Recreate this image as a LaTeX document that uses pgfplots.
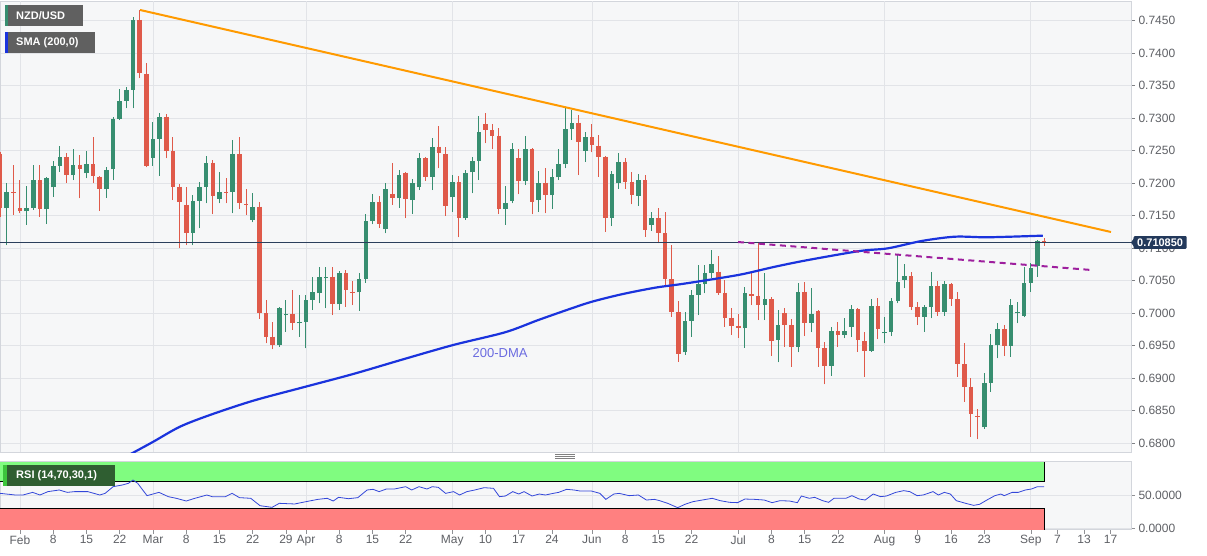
\documentclass[border=0pt]{standalone}
\usepackage{pgfplots}
\pgfplotsset{compat=1.18}
\usepackage{pgfplotstable}
\usepackage{fontspec}
\setmainfont{Liberation Sans}
\definecolor{bull}{HTML}{378E70}
\definecolor{bear}{HTML}{DF5A4A}
\definecolor{trendor}{HTML}{FF9A00}
\definecolor{dmablue}{HTML}{1A33DD}
\definecolor{dmatext}{HTML}{6B6BE0}
\definecolor{purp}{HTML}{9E1F9E}
\definecolor{pricecol}{HTML}{2B3F5C}
\definecolor{tagcol}{HTML}{23395B}
\definecolor{panelbg}{HTML}{F6F7F8}
\definecolor{gridcol}{HTML}{E2E4E8}
\definecolor{bordercol}{HTML}{D3D6DC}
\definecolor{labcol}{HTML}{5F6166}
\definecolor{legbg}{HTML}{606060}
\definecolor{rsigreen}{HTML}{80FC80}
\definecolor{rsired}{HTML}{FF8080}
\definecolor{rsiline}{HTML}{3347D9}
\definecolor{rsilab}{HTML}{2F5E31}
\definecolor{rsistrip}{HTML}{3CC43C}

% bullish candles: index O H L C
\pgfplotstableread{
i O H L C
-2 .71610 .72005 .71046 .71867
1 .71564 .71954 .71354 .71615
2 .71621 .72277 .71585 .72046
4 .71595 .72095 .71369 .72082
5 .71933 .72338 .71790 .72267
6 .72267 .72569 .72174 .72395
8 .72123 .72518 .72046 .72282
10 .72149 .72497 .72072 .72292
13 .71903 .72251 .71774 .72200
14 .72210 .73010 .72046 .72985
15 .72985 .73441 .72969 .73262
16 .73262 .73482 .73149 .73431
17 .73431 .74559 .73149 .74508
20 .72390 .72944 .72262 .72672
21 .72682 .73082 .72108 .73010
26 .71236 .71815 .71046 .71728
27 .71728 .72010 .71303 .71944
28 .71944 .72420 .71687 .72313
30 .71754 .72174 .71687 .71867
32 .71867 .72662 .71533 .72446
35 .71431 .71841 .71395 .71636
39 .69508 .70085 .69482 .70072
40 .69964 .70200 .69713 .69985
42 .69841 .70272 .69636 .69862
43 .69867 .70277 .69456 .70200
44 .70200 .70559 .70046 .70328
45 .70303 .70703 .70149 .70559
46 .70538 .70703 .70072 .70559
48 .70133 .70651 .70046 .70610
51 .70318 .70620 .70036 .70528
52 .70528 .71518 .70467 .71415
53 .71415 .71826 .71364 .71713
55 .71287 .71995 .71226 .71903
57 .71764 .72200 .71620 .72123
59 .71738 .72056 .71523 .71995
60 .71933 .72456 .71892 .72380
62 .72097 .72687 .71892 .72559
65 .71779 .72123 .71559 .72010
67 .71456 .72200 .71431 .72159
68 .72164 .72405 .71841 .72344
69 .72344 .73031 .72046 .72790
73 .71600 .71959 .71354 .71697
74 .71728 .72610 .71687 .72518
76 .72031 .72728 .71969 .72518
78 .71738 .72185 .71559 .72005
80 .71815 .72215 .71600 .72087
81 .72087 .72518 .72046 .72287
82 .72287 .73159 .72226 .72826
83 .72826 .73123 .72662 .72928
85 .72497 .72790 .72328 .72703
89 .71467 .72185 .71338 .72138
90 .71995 .72456 .71908 .72328
93 .71800 .72133 .71651 .72046
95 .71354 .71549 .71262 .71456
100 .69395 .70010 .69354 .69877
101 .69877 .70354 .69636 .70277
102 .70277 .70738 .69969 .70441
103 .70441 .70738 .70303 .70620
104 .70620 .70969 .70533 .70754
109 .69764 .70405 .69467 .70303
112 .70123 .70620 .69892 .70210
114 .69585 .70046 .69241 .69815
117 .69482 .70456 .69395 .70328
119 .69851 .70380 .69703 .69980
122 .69190 .69790 .69031 .69723
124 .69662 .69928 .69610 .69723
125 .69790 .70123 .69636 .70056
128 .69421 .70210 .69400 .70108
130 .69687 .69944 .69533 .69703
131 .69713 .70226 .69646 .70190
132 .70190 .70908 .70149 .70482
133 .70508 .70754 .70380 .70569
136 .69944 .70123 .69713 .70097
137 .70097 .70636 .69918 .70421
139 .70021 .70497 .69954 .70441
145 .68241 .69072 .68220 .68928
146 .68928 .69672 .68790 .69508
147 .69508 .69841 .69303 .69754
149 .69492 .70210 .69328 .70123
150 .69995 .70174 .69841 .70010
151 .69954 .70703 .69933 .70467
152 .70467 .70764 .70328 .70697
153 .70723 .71123 .70559 .71108
}\upc

% bearish candles: index O H L C
\pgfplotstableread{
i O H L C
-3 .72446 .72482 .71482 .71610
-1 .71856 .72277 .71508 .71840
0 .71610 .72046 .71533 .71564
3 .72046 .72277 .71482 .71595
7 .72395 .72467 .72005 .72123
9 .72282 .72431 .71764 .72210
11 .72292 .72703 .71995 .72108
12 .72097 .72110 .71574 .71903
18 .74508 .74662 .73610 .73697
19 .73677 .73851 .72241 .72262
22 .73020 .73062 .72379 .72497
23 .72492 .72713 .71738 .71944
24 .71944 .71985 .70995 .71703
25 .71662 .71933 .71046 .71236
29 .72313 .72354 .71518 .71800
31 .71862 .72072 .71687 .71846
33 .72446 .72703 .71595 .71687
34 .71677 .71903 .71508 .71656
36 .71636 .71703 .69908 .69995
37 .69995 .70200 .69533 .69636
38 .69636 .69867 .69441 .69508
41 .69985 .70354 .69738 .69841
47 .70559 .70703 .69969 .70133
49 .70610 .70662 .70097 .70354
50 .70328 .70497 .70123 .70313
54 .71713 .71800 .71313 .71369
56 .71831 .72303 .71662 .71764
58 .72159 .72170 .71456 .71749
61 .72380 .72405 .72036 .72097
63 .72559 .72877 .72226 .72456
64 .72446 .72559 .71492 .71646
66 .72010 .72108 .71164 .71456
70 .72903 .73072 .72610 .72815
71 .72815 .72903 .72518 .72728
72 .72728 .72841 .71523 .71600
75 .72380 .72518 .71826 .72031
77 .72518 .72533 .71518 .71703
79 .72005 .72236 .71533 .71815
84 .72928 .73046 .72123 .72636
86 .72703 .72903 .72472 .72585
87 .72574 .72738 .72097 .72405
88 .72405 .72415 .71251 .71467
91 .72328 .72380 .71908 .72021
92 .72021 .72164 .71672 .71815
94 .72046 .72123 .71174 .71277
96 .71456 .71610 .71072 .71226
97 .71226 .71559 .70405 .70523
98 .70523 .71046 .69944 .70020
99 .70010 .70185 .69251 .69364
105 .70636 .70877 .70277 .70313
106 .70313 .70508 .69790 .69928
107 .69928 .70082 .69662 .69800
108 .69805 .69980 .69621 .69764
110 .70292 .70636 .70123 .70267
111 .70267 .71087 .69892 .70123
113 .70210 .70251 .69344 .69569
115 .69995 .70072 .69482 .69815
116 .69815 .69908 .69174 .69482
118 .70328 .70472 .69646 .69851
120 .70036 .70046 .69174 .69456
121 .69456 .69559 .68903 .69190
123 .69723 .69867 .69482 .69662
126 .70056 .70072 .69405 .69585
127 .69569 .69713 .69020 .69421
129 .70108 .70226 .69595 .69749
134 .70569 .70636 .70046 .70097
135 .70097 .70174 .69815 .69944
138 .70421 .70497 .69954 .70021
140 .70441 .70456 .70108 .70215
141 .70215 .70328 .69020 .69210
142 .69210 .69533 .68636 .68867
143 .68867 .68995 .68097 .68446
144 .68415 .68518 .68056 .68395
148 .69754 .69815 .69338 .69492
154 .71113 .71149 .71036 .71082
}\dnc

\pgfplotsset{
  candlewick/.style={quiver={u=0,v=\thisrow{H}-\thisrow{L}}, line width=1pt},
  candlebody/.style={quiver={u=0,v=\thisrow{C}-\thisrow{O}}, line width=4.6pt},
  lab/.style={font=\fontsize{12}{14}\selectfont, text=labcol},
}

\begin{document}
\begin{tikzpicture}
\fill[white, use as bounding box] (0,0) rectangle (1207pt,555pt);

% ---------------- main price panel ----------------
\begin{axis}[
  at={(0pt,103pt)}, anchor=south west,
  scale only axis, width=1131pt, height=451pt,
  xmin=-3.0075, xmax=167.07, ymin=0.678615, ymax=0.748,
  axis background/.style={fill=panelbg},
  axis line style={bordercol, line width=0.8pt},
  xtick=\empty,
  ytick={0.680,0.685,0.690,0.695,0.700,0.705,0.710,0.715,0.720,0.725,0.730,0.735,0.740,0.745},
  ymajorgrids, grid style={gridcol, line width=0.8pt},
  ytick pos=right, yticklabel pos=right,
  tick align=outside, major tick length=4pt,
  ytick style={labcol!80, line width=0.6pt},
  scaled y ticks=false,
  yticklabel style={lab, /pgf/number format/fixed, /pgf/number format/fixed zerofill, /pgf/number format/precision=4, /pgf/number format/assume math mode=true},
]
\pgfplotsinvokeforeach{0,20,43,65,86,108,130,152}{
  \draw[gridcol, line width=0.8pt] (axis cs:#1,0.678615) -- (axis cs:#1,0.748);
}
\addplot[bull, candlewick] table[x=i, y=L] {\upc};
\addplot[bull, candlebody] table[x=i, y=O] {\upc};
\addplot[bear, candlewick] table[x=i, y=L] {\dnc};
\addplot[bear, candlebody] table[x=i, y=O] {\dnc};
% current price line
\addplot[pricecol, line width=0.9pt] coordinates {(-3.0075,0.71085) (167.07,0.71085)};
% 200-DMA
\addplot[dmablue, line width=2.2pt, smooth] coordinates {
(16.24,.67808) (17.29,.67866) (20.05,.6802) (24.06,.68251) (28.57,.68431) (35.08,.68651)
(42.6,.68857) (50.12,.69062) (57.64,.69288) (65.16,.69508) (72.93,.69703) (77.94,.69892)
(82.96,.70072) (86.02,.70174) (90.48,.70288) (95.49,.70389) (99.25,.70442) (103.46,.70508)
(108.53,.70595) (113.53,.70712) (118.5,.70815) (126.3,.70954) (130.5,.70995) (135.6,.71108)
(140.6,.71174) (145.56,.71165) (153.8,.7119)};
% trend lines
\addplot[trendor, line width=2pt] coordinates {(18.05,0.74662) (164.06,0.71246)};
\addplot[purp, line width=2pt, dash pattern=on 6pt off 4.5pt] coordinates {(107.97,0.71092) (161.05,0.70662)};
\node[text=dmatext, font=\fontsize{13}{15}\selectfont] at (axis cs:72.2,0.69385) {200-DMA};
\coordinate (tagpt) at (axis cs:167.07,0.71085);
\end{axis}

% ---------------- RSI panel ----------------
\begin{axis}[
  at={(0pt,25.5pt)}, anchor=south west,
  scale only axis, width=1131pt, height=68pt,
  xmin=-3.0075, xmax=167.07, ymin=-2.27, ymax=100.76,
  axis background/.style={fill=panelbg},
  axis line style={bordercol, line width=0.8pt},
  xtick={0,5,10,15,20,25,30,35,40,43,48,53,58,65,70,75,80,86,91,96,101,108,113,118,123,130,135,140,145,152,156,160,164},
  xticklabels={Feb,8,15,22,Mar,8,15,22,29,Apr,8,15,22,May,10,17,24,Jun,8,15,22,Jul,8,15,22,Aug,9,16,23,Sep,7,13,17},
  xtick pos=left, ytick pos=right, yticklabel pos=right,
  ytick={0,50}, ymajorgrids, grid style={gridcol, line width=0.8pt},
  tick align=outside, major tick length=4pt,
  tick style={labcol!70, line width=0.6pt},
  xticklabel style={lab, yshift=1.5pt},
  scaled y ticks=false,
  yticklabel style={lab, /pgf/number format/fixed, /pgf/number format/fixed zerofill, /pgf/number format/precision=4, /pgf/number format/assume math mode=true},
]
\pgfplotsinvokeforeach{0,20,43,65,86,108,130,152}{
  \draw[gridcol, line width=0.8pt] (axis cs:#1,-2.27) -- (axis cs:#1,100.76);
}
\addplot[fill=rsigreen, draw=none] coordinates {(-3.0075,70) (154,70) (154,100) (-3.0075,100)} -- cycle;
\addplot[fill=rsired, draw=none] coordinates {(-3.0075,-2.27) (154,-2.27) (154,30) (-3.0075,30)} -- cycle;
\addplot[black, line width=0.9pt] coordinates {(-3.0075,70) (154,70) (154,100)};
\addplot[black, line width=0.9pt] coordinates {(-3.0075,30) (154,30) (154,-2.27)};
\addplot[rsiline, line width=0.8pt] coordinates {
(-3.0,52.5) (-0.7,50.0) (0.45,50.0) (1.9,54.0) (3.0,50.0) (4.2,55.1) (5.9,57.6) (7.1,54.0) (8.2,55.1) (10.2,55.1)
(12.0,50.0) (12.8,52.5) (14.0,62.6) (15.4,65.2) (16.3,67.7) (17.0,72.7) (17.7,67.7) (19.1,49.0) (20.9,54.0) (22.3,47.5)
(23.5,45.0) (25.0,40.9) (26.3,45.0) (28.1,50.0) (28.9,47.5) (30.9,47.5) (31.9,52.5) (33.0,46.0) (34.7,45.0) (36.1,33.8)
(37.9,31.3) (39.0,37.4) (41.3,36.4) (43.0,39.9) (44.8,43.4) (46.2,45.0) (47.1,40.9) (47.9,46.5) (49.4,44.4) (50.8,46.0)
(52.2,57.6) (53.1,58.6) (54.0,55.1) (55.1,59.1) (56.3,59.1) (58.0,62.6) (58.9,57.6) (60.0,62.6) (61.2,59.1) (62.0,62.6)
(62.9,61.6) (64.0,52.5) (65.2,55.1) (66.1,50.0) (67.2,55.1) (68.4,57.6) (69.8,61.1) (71.2,60.1) (72.1,47.5) (73.0,48.5)
(74.1,55.1) (75.0,51.5) (75.8,55.1) (77.0,48.5) (78.1,51.5) (79.0,50.0) (80.2,52.5) (81.0,54.0) (82.2,58.6) (83.3,57.6)
(84.2,56.1) (85.9,56.1) (87.2,52.5) (88.1,43.4) (89.3,51.5) (90.1,52.5) (91.6,49.0) (93.0,50.0) (94.2,42.4) (95.4,43.4)
(96.2,41.4) (97.4,37.4) (98.9,30.8) (100.0,35.9) (101.2,39.9) (102.6,42.4) (104.1,45.0) (105.3,41.4) (106.7,38.9) (107.9,38.4)
(109.0,43.9) (110.5,43.4) (111.9,42.4) (113.1,38.4) (114.3,41.4) (115.7,40.9) (116.9,38.4) (117.5,48.5) (118.7,45.0) (119.5,46.5)
(120.7,41.4) (121.6,38.9) (122.4,45.0) (124.2,45.0) (125.1,49.0) (126.2,43.9) (127.1,42.4) (128.3,51.5) (129.4,47.5) (130.3,48.5)
(131.7,54.0) (132.9,56.6) (133.8,55.1) (134.9,49.0) (135.8,50.0) (137.3,55.1) (138.1,50.0) (139.0,54.0) (139.9,51.5) (140.8,41.4)
(142.2,37.4) (143.4,34.3) (144.3,35.9) (145.4,42.4) (146.6,49.0) (147.5,51.5) (148.0,49.0) (149.2,54.0) (150.1,54.0) (151.2,57.6)
(152.1,59.1) (153.0,62.6) (154.0,62.6)};
\end{axis}

% ---------------- annotations ----------------
% current price tag
\fill[tagcol] (tagpt) -- ++(3.5pt,5pt) -- ++(0,-10pt) -- cycle;
\node[fill=tagcol, text=white, font=\bfseries\fontsize{11}{13}\selectfont, anchor=west,
      inner xsep=3.5pt, inner ysep=2.5pt, rounded corners=1pt] at ([xshift=2.5pt]tagpt) {0.710850};
% legend boxes
\fill[legbg] (5pt,529pt) rectangle (83pt,550pt);
\fill[bull] (5pt,529pt) rectangle (7.5pt,550pt);
\node[anchor=west, text=white, font=\bfseries\fontsize{11}{13}\selectfont] at (12.7pt,539.5pt) {NZD/USD};
\fill[legbg] (5pt,502pt) rectangle (95pt,523pt);
\fill[dmablue] (5pt,502pt) rectangle (7.5pt,523pt);
\node[anchor=west, text=white, font=\bfseries\fontsize{11}{13}\selectfont] at (12.7pt,512.5pt) {SMA (200,0)};
% RSI label
\fill[rsilab] (3pt,69pt) rectangle (115pt,90pt);
\fill[rsistrip] (3pt,69pt) rectangle (6.5pt,90pt);
\node[anchor=west, text=white, font=\bfseries\fontsize{11}{13}\selectfont] at (12.7pt,79.5pt) {RSI (14,70,30,1)};
% panel separator handle
\draw[gray, line width=0.8pt] (555pt,101pt) -- (575pt,101pt) (555pt,99pt) -- (575pt,99pt) (555pt,97pt) -- (575pt,97pt);
\end{tikzpicture}
\end{document}
